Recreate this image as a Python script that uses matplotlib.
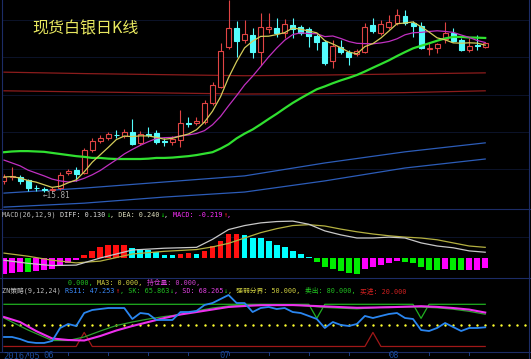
import numpy as np
import pandas as pd
import matplotlib
matplotlib.use("Agg")
import matplotlib.pyplot as plt
from matplotlib.lines import Line2D
from matplotlib.patches import Rectangle

plt.rcParams['font.family'] = ['DejaVu Sans Mono', 'Noto Sans CJK SC']

W, H = 531, 359  # output size in px

# daily silver candles, starting 2016-05-25 (business days)
start_date = "2016-05-25"
opens = [16.12, 16.22, 16.23, 16.15, 15.93, 15.89, 15.86, 15.92, 16.34, 16.42,
         16.34, 16.98, 17.23, 17.32, 17.41, 17.37, 17.48, 17.18, 17.43, 17.45,
         17.24, 17.20, 17.26, 17.74, 17.73, 17.76, 18.29, 18.74, 19.85, 20.38,
         20.05, 20.18, 19.71, 20.35, 20.38, 20.24, 20.46, 20.41, 20.35, 20.16,
         19.99, 19.46, 19.85, 19.71, 19.66, 19.71, 20.46, 20.24, 20.41, 20.52,
         20.71, 20.52, 20.44, 19.79, 19.82, 20.07, 20.24, 20.05, 19.77, 19.91,
         19.85]
highs = [16.31, 16.51, 16.28, 16.17, 16.00, 15.95, 15.95, 16.37, 16.45, 16.51,
         17.04, 17.32, 17.40, 17.48, 17.54, 17.57, 17.84, 17.51, 17.62, 17.54,
         17.32, 17.37, 18.10, 17.90, 17.90, 18.37, 18.88, 19.96, 21.16, 20.57,
         20.60, 20.38, 20.80, 20.80, 20.66, 20.63, 20.66, 20.46, 20.41, 20.21,
         20.05, 20.05, 20.05, 19.77, 19.79, 20.52, 20.66, 20.60, 20.74, 20.91,
         20.88, 20.57, 20.55, 19.96, 19.96, 20.55, 20.38, 20.10, 20.10, 20.18,
         19.99]
lows = [16.03, 16.15, 16.03, 15.84, 15.84, 15.81, 15.83, 15.87, 16.28, 16.12,
        16.31, 16.93, 17.18, 17.26, 17.32, 17.32, 17.12, 17.12, 17.34, 17.15,
        17.09, 17.12, 17.06, 17.62, 17.68, 17.71, 18.23, 18.71, 19.79, 19.57,
        19.96, 19.54, 19.35, 20.24, 20.13, 20.10, 20.10, 20.18, 19.85, 19.77,
        19.35, 19.27, 19.66, 19.35, 19.60, 19.68, 20.24, 20.18, 20.35, 20.46,
        20.46, 20.13, 19.79, 19.63, 19.68, 19.96, 19.99, 19.74, 19.71, 19.77,
        19.82]
closes = [16.23, 16.25, 16.12, 15.92, 15.91, 15.86, 15.89, 16.28, 16.40, 16.31,
          16.98, 17.23, 17.32, 17.43, 17.39, 17.48, 17.15, 17.43, 17.41, 17.20,
          17.21, 17.29, 17.73, 17.71, 17.79, 18.29, 18.79, 19.74, 20.38, 20.02,
          20.21, 19.71, 20.41, 20.41, 20.24, 20.49, 20.35, 20.24, 20.16, 19.99,
          19.40, 19.88, 19.71, 19.57, 19.74, 20.41, 20.30, 20.49, 20.55, 20.74,
          20.52, 20.44, 19.82, 19.82, 19.93, 20.24, 20.02, 19.77, 19.88, 19.88,
          19.96]

ma10_head = [16.70, 16.62, 16.54, 16.42, 16.34, 16.26, 16.17, 16.12, 16.09]
ma30_head = [16.92, 16.94, 16.95, 16.95, 16.94, 16.93, 16.90, 16.87, 16.84, 16.81,
             16.79, 16.76, 16.76, 16.74, 16.73, 16.73, 16.73, 16.73, 16.74, 16.76,
             16.76, 16.77, 16.79, 16.81, 16.84, 16.88, 16.92, 17.02, 17.14]

# long averages, read at every 10th bar
long_idx = [0, 10, 20, 30, 40, 50, 60]
ma_red1 = [19.15, 19.11, 19.08, 19.05, 19.07, 19.10, 19.13]
ma_red2 = [18.63, 18.60, 18.57, 18.54, 18.55, 18.58, 18.63]
ma_blue1 = [15.78, 15.92, 16.09, 16.26, 16.62, 16.93, 17.18]
ma_blue2 = [15.39, 15.50, 15.67, 15.81, 16.12, 16.48, 16.73]

# MACD(26,12,9)
macd_hist = [-0.36, -0.34, -0.31, -0.32, -0.29, -0.27, -0.25, -0.19, -0.11, -0.04,
             0.06, 0.15, 0.24, 0.285, 0.29, 0.30, 0.225, 0.21, 0.19, 0.13,
             0.075, 0.06, 0.09, 0.11, 0.09, 0.15, 0.26, 0.39, 0.53, 0.54,
             0.51, 0.45, 0.44, 0.375, 0.30, 0.25, 0.165, 0.09, 0.02, -0.09,
             -0.21, -0.24, -0.30, -0.34, -0.35, -0.25, -0.20, -0.15, -0.11, -0.07,
             -0.08, -0.11, -0.20, -0.26, -0.28, -0.25, -0.26, -0.28, -0.27, -0.26,
             -0.219]
macd_line_idx = [0, 3, 6, 9, 12, 16, 20, 24, 26, 28, 30, 32, 34, 36, 38, 40,
                 42, 44, 46, 48, 50, 52, 54, 56, 58, 60]
diff_vals = [-0.05, -0.12, -0.17, -0.16, 0.0, 0.18, 0.22, 0.24, 0.42, 0.64, 0.73,
             0.79, 0.82, 0.83, 0.76, 0.61, 0.52, 0.45, 0.45, 0.47, 0.45, 0.34,
             0.27, 0.23, 0.16, 0.13]
dea_vals = [0.11, 0.04, -0.05, -0.11, -0.07, 0.09, 0.15, 0.19, 0.25, 0.33, 0.45,
            0.57, 0.66, 0.73, 0.75, 0.72, 0.65, 0.59, 0.54, 0.50, 0.47, 0.45,
            0.41, 0.34, 0.27, 0.24]

# ZN strategy (9,12,24)
rsi1 = [33.5, 33.5, 30.6, 26.4, 25.0, 25.0, 27.8, 46.3, 52.0, 49.1,
        67.6, 71.9, 73.3, 74.7, 74.7, 74.7, 59.1, 67.6, 66.2, 57.7,
        57.7, 57.7, 69.0, 69.0, 70.5, 79.0, 81.8, 87.5, 93.2, 81.8,
        81.8, 69.0, 74.7, 76.2, 73.3, 74.7, 69.0, 67.6, 63.4, 59.1,
        46.3, 54.8, 50.6, 49.1, 52.0, 63.4, 60.5, 63.4, 66.2, 67.6,
        60.5, 59.1, 43.4, 42.0, 46.3, 53.4, 47.7, 42.0, 46.3, 46.3, 47.253]
sk_idx = [0, 3, 6, 8, 10, 12, 14, 16, 18, 20, 22, 24, 26, 28, 30, 32, 36, 40,
          44, 48, 52, 54, 56, 58, 60]
sk_vals = [60.5, 43.4, 28.5, 28.5, 33.5, 42.0, 49.8, 54.8, 59.1, 62.6, 65.5, 70.5,
           74.7, 77.6, 78.7, 79.7, 79.5, 75.5, 73.5, 76.5, 76.0, 75.0, 73.0, 70.0,
           65.863]
sd_idx = [0, 2, 4, 6, 8, 10, 12, 14, 16, 18, 20, 22, 24, 26, 28, 30, 32, 36, 40,
          44, 48, 52, 54, 56, 58, 60]
sd_vals = [61.9, 54.8, 42.0, 31.4, 29.2, 28.5, 34.9, 42.7, 49.1, 54.8, 60.5, 65.5,
           69.0, 72.6, 76.2, 77.6, 78.7, 78.9, 77.0, 75.0, 75.8, 77.3, 76.3, 74.7,
           72.5, 68.265]
mid_level = 50
sell_level, sell_dip, sell_days = 80, 60, [39, 52]
buy_level, buy_peak, buy_days = 20, 40, [10, 46]

# colours
UP, DOWN = '#e04444', '#54fcfc'
NAVY = '#1c2c66'

n = len(closes)
x = np.arange(n)
dates = pd.bdate_range(start_date, periods=n)

fig = plt.figure(figsize=(W / 100, H / 100), dpi=100, facecolor='black')
renderer = fig.canvas.get_renderer()


def panel(top, bottom):
    ax = fig.add_axes([2 / W, 1 - bottom / H, 527 / W, (bottom - top) / H])
    ax.set_facecolor('black')
    ax.set_xlim(-0.25, 65.46)
    for s in ax.spines.values():
        s.set_visible(False)
    ax.set_xticks([])
    ax.set_yticks([])
    return ax


def hline(py, x0=0, x1=W, color=NAVY, lw=0.8):
    fig.add_artist(Line2D([x0 / W, x1 / W], [1 - py / H, 1 - py / H], color=color, lw=lw))


def vline(px, y0, y1, color=NAVY, lw=0.8):
    fig.add_artist(Line2D([px / W, px / W], [1 - y0 / H, 1 - y1 / H], color=color, lw=lw))


# ---------------- main K-line panel ----------------
ax1 = panel(0, 209)
ax1.set_ylim(21.16 - 0.02786 * 209, 21.16)
for gy in [20, 57, 95, 132, 169]:
    ax1.axhline(21.16 - 0.02786 * gy, color='#0e1630', lw=0.6, zorder=0)

ax1.plot(long_idx, ma_red1, color='#8c1c1c', lw=0.9, zorder=1)
ax1.plot(long_idx, ma_red2, color='#8c1c1c', lw=0.9, zorder=1)
ax1.plot(long_idx, ma_blue1, color='#2c5cb8', lw=0.9, zorder=1)
ax1.plot(long_idx, ma_blue2, color='#2c5cb8', lw=0.9, zorder=1)

bw = 0.62
for i in range(n):
    o, h, l, c = opens[i], highs[i], lows[i], closes[i]
    up = c >= o
    col = UP if up else DOWN
    top, bot = max(o, c), min(o, c)
    ax1.vlines(i, top, h, color=col, lw=0.8, zorder=2)
    ax1.vlines(i, l, bot, color=col, lw=0.8, zorder=2)
    ax1.add_patch(Rectangle((i - bw / 2, bot), bw, max(top - bot, 0.004),
                            facecolor='black' if up else col, edgecolor=col,
                            lw=0.8, zorder=2))

cs = pd.Series(closes)
ma5 = cs.rolling(5, min_periods=1).mean()
ma10 = cs.rolling(10).mean()
ma10.iloc[:len(ma10_head)] = ma10_head
ma30 = cs.rolling(30).mean()
ma30.iloc[:len(ma30_head)] = ma30_head
ax1.plot(x, ma30, color='#30e030', lw=1.6, zorder=3)
ax1.plot(x, ma10, color='#c030c0', lw=0.9, zorder=3)
ax1.plot(x, ma5, color='#d4cc5a', lw=0.9, zorder=3)

imax = int(np.argmax(highs))
ax1.annotate(f"{highs[imax]:.2f}", xy=(imax, highs[imax]), xytext=(20, -2),
             textcoords='offset pixels', ha='center', va='bottom',
             color='#a8a8a8', fontsize=6, annotation_clip=False)
imin = int(np.argmin(lows))
ax1.annotate(f"←{lows[imin]:.2f}", xy=(imin, lows[imin]), xytext=(-1, -3),
             textcoords='offset pixels', ha='left', va='center',
             color='#a8a8a8', fontsize=5.5)

fig.text(32 / W, 1 - 28.5 / H, "现货白银日K线", family='Noto Sans CJK SC',
         fontsize=11.5, color='#e8e860', va='center', ha='left')

# ---------------- MACD panel ----------------
ax2 = panel(209, 278)
ax2.set_ylim(-0.45, 1.1025)
ax2.axhline(0.4725, color='#0e1630', lw=0.6, zorder=0)
hist = np.array(macd_hist)
prev = np.r_[hist[0], hist[:-1]]
bar_cols = np.where(hist >= 0,
                    np.where(hist >= prev, '#ff1010', '#00ffff'),
                    np.where(hist < prev, '#00ee00', '#ff00ff'))
ax2.bar(x, hist, width=0.72, color=bar_cols, zorder=2)
ax2.plot(macd_line_idx, dea_vals, color='#b4b040', lw=0.9, zorder=3)
ax2.plot(macd_line_idx, diff_vals, color='#c8c8c8', lw=0.9, zorder=3)

# ---------------- ZN strategy panel ----------------
ax3 = panel(278, 352)
ax3.set_ylim(12.15, 117.4)
sell = np.full(n, float(sell_level))
sell[sell_days] = sell_dip
buy = np.full(n, float(buy_level))
buy[buy_days] = buy_peak
ax3.plot(x, buy, color='#a01818', lw=0.9, zorder=2)
ax3.plot(x, sell, color='#20b020', lw=0.9, zorder=2)
ax3.scatter(np.arange(66), [mid_level] * 66, s=3, color='#ffff30', lw=0, zorder=2)
ax3.plot(sk_idx, sk_vals, color='#2ea02e', lw=0.9, zorder=3)
ax3.plot(sd_idx, sd_vals, color='#ee30ee', lw=1.5, zorder=4)
ax3.plot(x, rsi1, color='#2a86f0', lw=1.3, zorder=5)

# frame lines
hline(209)
hline(278)
hline(352)
vline(2, 0, 352)
vline(529, 0, 359)

# date axis
mondays = [i for i in range(n) if dates[i].dayofweek == 0]
for i in mondays:
    px = 4 + 8.02 * i
    vline(px, 352, 355, color='#1c3a80', lw=0.7)
for i in range(n):
    if i == 0 or dates[i].month != dates[i - 1].month:
        lab = dates[i].strftime("%Y/%m") if i == 0 else dates[i].strftime("%m")
        px = 4 + 8.02 * i
        fig.text((px - 1) / W, 1 - 356 / H, lab, color='#1a4a9a', fontsize=6.3,
                 va='center', ha='left')


def chain(x_px, y_px, parts, size=4.9):
    # place coloured pieces one after another on one text row
    for s, col in parts:
        t = fig.text(x_px / W, 1 - y_px / H, s, color=col, fontsize=size,
                     va='center', ha='left')
        x_px = t.get_window_extent(renderer).x1 + 0.3


chain(2, 215, [("MACD(26,12,9) ", '#c0c0c0'), ("DIFF: 0.130", '#e0e0e0'),
               ("↓", '#00ee00'), (", DEA: 0.240", '#e0e0c0'), ("↓", '#00ee00'),
               (", ", '#e0e0e0'), ("MACD: -0.219", '#ff30ff'),
               ("↑", '#ff2020'), (",", '#ff30ff')])
chain(68, 282.5, [("0.000, ", '#20c020'), ("MA3: 0.000, ", '#d0d040'),
                  ("持仓量: 0.000,", '#d040d0')])
chain(2, 291, [("ZN策略(9,12,24) ", '#c0c0c0'), ("RSI1: 47.253", '#3c8cff'),
               ("↑", '#ff2020'), (", SK: 65.863", '#20c020'), ("↓", '#20c020'),
               (", SD: 68.265", '#e040e0'), ("↓", '#20c020'),
               (", 强弱分界: 50.000, ", '#d0d040'), ("卖出: 80.000, ", '#20c020'),
               ("买进: 20.000", '#d02020')])

fig.savefig("out.png", dpi=100, facecolor='black')
